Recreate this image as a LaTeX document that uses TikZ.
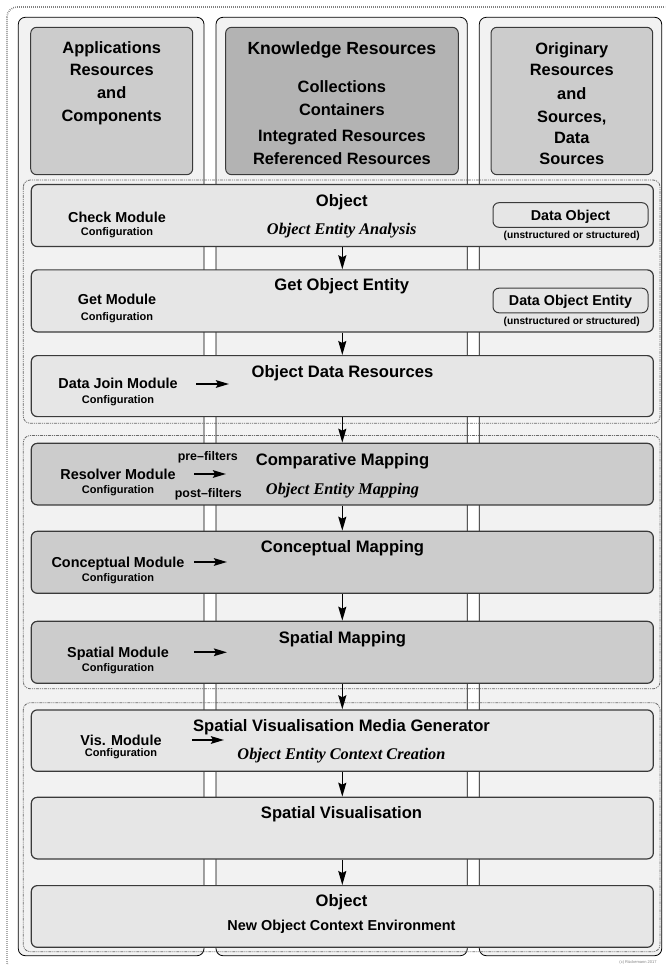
\documentclass[tikz,border=0pt]{standalone}
\usepackage{fontspec}
\setmainfont{Liberation Sans}
\newfontfamily\tms{Liberation Serif}
\usetikzlibrary{arrows.meta}
\definecolor{panelc}{HTML}{F2F2F2}
\definecolor{rowlight}{HTML}{E6E6E6}
\definecolor{rowmid}{HTML}{CCCCCC}
\definecolor{hdrside}{HTML}{CCCCCC}
\definecolor{hdrmid}{HTML}{B3B3B3}
\definecolor{edgec}{HTML}{3A3A3A}
\definecolor{grpc}{HTML}{6A6A6A}
\begin{document}
\begin{tikzpicture}[x=1pt,y=-1pt,
  panel/.style={fill=panelc,draw=black,line width=0.8pt,rounded corners=7pt},
  hdrbox/.style={draw=edgec,line width=1pt,rounded corners=6pt},
  rowbox/.style={draw=edgec,line width=1.2pt,rounded corners=6pt,minimum width=622pt,inner sep=0pt,anchor=north west},
  grp/.style={draw=grpc,line width=0.8pt,rounded corners=7pt,dash pattern=on 3pt off 1pt on 1pt off 1pt on 1pt off 1pt},
  outerf/.style={draw=gray,line width=1.6pt,dash pattern=on 0.7pt off 1.3pt,rounded corners=10pt},
  dobox/.style={fill=rowlight,draw=edgec,line width=1pt,rounded corners=6pt,minimum width=155pt,minimum height=24.6pt,inner sep=0pt,font=\fontsize{14.3}{16}\selectfont\bfseries,text height=10.2pt,text depth=0pt},
  ttl/.style={anchor=base,inner sep=0pt,font=\fontsize{16.6}{19}\selectfont\bfseries},
  hdr/.style={anchor=base,inner sep=0pt,font=\fontsize{16.4}{19}\selectfont\bfseries},
  modl/.style={anchor=base,inner sep=0pt,font=\fontsize{14.4}{17}\selectfont\bfseries},
  cfg/.style={anchor=base,inner sep=0pt,font=\fontsize{11}{13}\selectfont\bfseries},
  smallt/.style={anchor=base,inner sep=0pt,font=\fontsize{10.2}{12}\selectfont\bfseries},
  flt/.style={anchor=base,inner sep=0pt,font=\fontsize{12.4}{14}\selectfont\bfseries},
  ital/.style={anchor=base,inner sep=0pt,font=\fontsize{16.3}{19}\selectfont\tms\bfseries\itshape},
  varr/.style={line width=1.6pt,-{Stealth[length=14pt,width=8pt,inset=2pt]}},
  harr/.style={line width=2pt,-{Stealth[length=13pt,width=7.5pt,inset=2pt]}}
]
\useasboundingbox (0,0) rectangle (665,965);
\clip (0,0) rectangle (665,965);
% outer dotted frame
\draw[outerf] (7,7) rectangle (690,972);
% column panels
\draw[panel] (18.3,17.3) rectangle (204,955.7);
\draw[panel] (216,17.3) rectangle (467.3,955.7);
\draw[panel] (479.3,17.3) rectangle (661.7,955.7);
% header boxes
\draw[hdrbox,fill=hdrside] (30.7,27.3) rectangle (192.7,174.7);
\draw[hdrbox,fill=hdrmid] (225.6,27.3) rectangle (458.3,174.7);
\draw[hdrbox,fill=hdrside] (491,27.3) rectangle (652.7,174.7);
% header texts
\node[hdr] (hl1) at (111.7,54) {Applications};
\node[hdr] (hl2) at (111.7,75.5) {Resources};
\node[hdr] (hl3) at (111.7,99) {and};
\node[hdr] (hl4) at (111.7,122) {Components};
\node[hdr,font=\fontsize{17.6}{20}\selectfont\bfseries] (hm1) at (341.9,54.5) {Knowledge Resources};
\node[hdr] (hm2) at (341.9,93) {Collections};
\node[hdr] (hm3) at (341.9,116) {Containers};
\node[hdr] (hm4) at (341.9,142) {Integrated Resources};
\node[hdr] (hm5) at (341.9,165) {Referenced Resources};
\node[hdr] (hr1) at (571.8,55) {Originary};
\node[hdr] (hr2) at (571.8,76) {Resources};
\node[hdr] (hr3) at (571.8,99.3) {and};
\node[hdr] (hr4) at (571.8,122.7) {Sources,};
\node[hdr] (hr5) at (571.8,144) {Data};
\node[hdr] (hr6) at (571.8,165) {Sources};
% group frames
\draw[grp] (23.3,180) rectangle (660,423.3);
\draw[grp] (23.3,435.5) rectangle (660,688.8);
\draw[grp] (23.3,702.7) rectangle (660,951.7);
% rows
\node[rowbox,fill=rowlight,minimum height=62pt] (r1) at (30.7,184) {};
\node[rowbox,fill=rowlight,minimum height=62pt] (r2) at (30.7,269.3) {};
\node[rowbox,fill=rowlight,minimum height=61pt] (r3) at (30.7,355) {};
\node[rowbox,fill=rowmid,minimum height=61.6pt] (r4) at (30.7,442.7) {};
\node[rowbox,fill=rowmid,minimum height=62pt] (r5) at (30.7,530.7) {};
\node[rowbox,fill=rowmid,minimum height=62pt] (r6) at (30.7,620.7) {};
\node[rowbox,fill=rowlight,minimum height=61.4pt] (r7) at (30.7,709.3) {};
\node[rowbox,fill=rowlight,minimum height=61.6pt] (r8) at (30.7,796.7) {};
\node[rowbox,fill=rowlight,minimum height=61.7pt] (r9) at (30.7,885) {};
% vertical arrows
\draw[varr] (r1.south) -- (r2.north);
\draw[varr] (r2.south) -- (r3.north);
\draw[varr] (r3.south) -- (r4.north);
\draw[varr] (r4.south) -- (r5.north);
\draw[varr] (r5.south) -- (r6.north);
\draw[varr] (r6.south) -- (r7.north);
\draw[varr] (r7.south) -- (r8.north);
\draw[varr] (r8.south) -- (r9.north);
% row 1
\node[ttl] (t1) at (341.7,206.7) {Object};
\node[ital] (i1) at (341.7,234.3) {Object Entity Analysis};
\node[modl] (m1) at (117,222.5) {Check Module};
\node[cfg] (c1) at (117,236) {Configuration};
\node[dobox] (do1) at (570.5,215) {Data Object};
\node[smallt] (u1) at (571.7,239) {(unstructured or structured)};
% row 2
\node[ttl] (t2) at (341.7,290.7) {Get Object Entity};
\node[modl] (m2) at (117,305) {Get Module};
\node[cfg] (c2) at (117,320) {Configuration};
\node[dobox] (do2) at (570.5,300.5) {Data Object Entity};
\node[smallt] (u2) at (571.7,324) {(unstructured or structured)};
% row 3
\node[ttl] (t3) at (342.5,377.3) {Object Data Resources};
\node[modl] (m3) at (118,388.3) {Data Join Module};
\node[cfg] (c3) at (118,403.3) {Configuration};
\coordinate (a3s) at (196,384);
\coordinate (a3e) at (229,384);
\draw[harr] (a3s) -- (a3e);
% row 4
\node[flt] (pre) at (207.8,460) {pre--filters};
\node[ttl] (t4) at (342.5,465) {Comparative Mapping};
\node[modl] (m4) at (118,479) {Resolver Module};
\node[cfg] (c4) at (118,493.3) {Configuration};
\node[flt] (post) at (208.3,497.3) {post--filters};
\node[ital] (i4) at (342.5,494) {Object Entity Mapping};
\coordinate (a4s) at (194,474);
\coordinate (a4e) at (226,474);
\draw[harr] (a4s) -- (a4e);
% row 5
\node[ttl] (t5) at (342.5,552.7) {Conceptual Mapping};
\node[modl] (m5) at (118,567.3) {Conceptual Module};
\node[cfg] (c5) at (118,581.3) {Configuration};
\coordinate (a5s) at (194,562);
\coordinate (a5e) at (227,562);
\draw[harr] (a5s) -- (a5e);
% row 6
\node[ttl] (t6) at (342.5,643.3) {Spatial Mapping};
\node[modl] (m6) at (118,657.3) {Spatial Module};
\node[cfg] (c6) at (118,671.7) {Configuration};
\coordinate (a6s) at (194,652.3);
\coordinate (a6e) at (227,652.3);
\draw[harr] (a6s) -- (a6e);
% row 7
\node[ttl] (t7) at (341.5,731.7) {Spatial Visualisation Media Generator};
\node[modl] (m7) at (121,745.7) {Vis. Module};
\node[cfg] (c7) at (121,756.7) {Configuration};
\node[ital] (i7) at (341.4,759) {Object Entity Context Creation};
\coordinate (a7s) at (192,740);
\coordinate (a7e) at (224,740);
\draw[harr] (a7s) -- (a7e);
% row 8
\node[ttl] (t8) at (341.5,818.3) {Spatial Visualisation};
% row 9
\node[ttl] (t9) at (341.5,906.7) {Object};
\node[modl] (n9) at (341.5,930) {New Object Context Environment};
% copyright
\node[anchor=base,inner sep=0pt,font=\fontsize{4}{5}\selectfont,text=gray] (cp) at (638,963) {(c) Rückemann 2017};
\end{tikzpicture}
\end{document}
